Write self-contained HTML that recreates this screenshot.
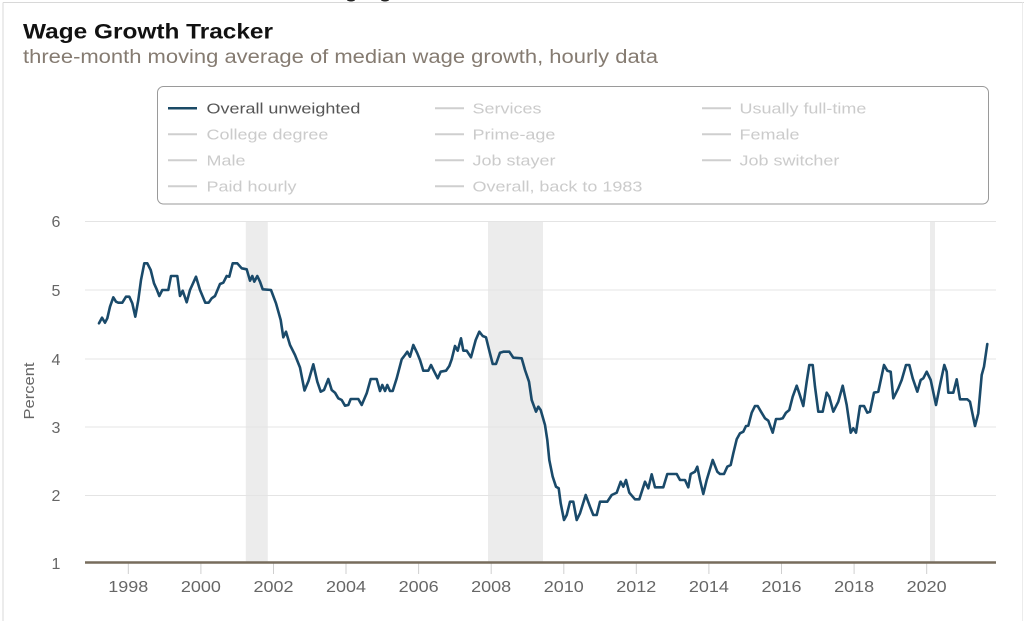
<!DOCTYPE html>
<html><head><meta charset="utf-8"><style>
html,body{margin:0;padding:0;background:#fff;}
svg{display:block;}
text{font-family:"Liberation Sans",Arial,sans-serif;}
</style></head><body>
<svg width="1024" height="621" viewBox="0 0 1024 621" xmlns="http://www.w3.org/2000/svg">
<rect x="0" y="0" width="1024" height="621" fill="#fff"/>
<line x1="3" y1="2.5" x2="1024" y2="2.5" stroke="#d8d8d8" stroke-width="1"/>
<line x1="3" y1="2.5" x2="3" y2="621" stroke="#d8d8d8" stroke-width="1"/>
<line x1="1022.5" y1="2.5" x2="1022.5" y2="621" stroke="#ececec" stroke-width="1"/>
<ellipse cx="351" cy="0" rx="4" ry="1.5" fill="#222"/>
<ellipse cx="385" cy="0" rx="4" ry="1.5" fill="#222"/>

<text x="23" y="38.5" font-size="21" font-weight="bold" fill="#111" textLength="250" lengthAdjust="spacingAndGlyphs">Wage Growth Tracker</text>
<text x="23" y="63" font-size="19" fill="#857b71" textLength="635" lengthAdjust="spacingAndGlyphs">three-month moving average of median wage growth, hourly data</text>

<!-- legend -->
<rect x="157.5" y="86.5" width="831" height="117.5" rx="6" ry="6" fill="#fff" stroke="#9a9a9a" stroke-width="1"/>
<g font-size="15">
<line x1="168" y1="108.3" x2="197" y2="108.3" stroke="#1b4a66" stroke-width="2.5"/>
<g transform="translate(206.5,113.5) scale(1.2,1)"><text x="0" y="0" fill="#555">Overall unweighted</text></g>
<line x1="168" y1="134.3" x2="197" y2="134.3" stroke="#cfcfcf" stroke-width="2"/>
<g transform="translate(206.5,139.5) scale(1.2,1)"><text x="0" y="0" fill="#cbcbcb">College degree</text></g>
<line x1="168" y1="160.3" x2="197" y2="160.3" stroke="#cfcfcf" stroke-width="2"/>
<g transform="translate(206.5,165.5) scale(1.2,1)"><text x="0" y="0" fill="#cbcbcb">Male</text></g>
<line x1="168" y1="186.3" x2="197" y2="186.3" stroke="#cfcfcf" stroke-width="2"/>
<g transform="translate(206.5,191.5) scale(1.2,1)"><text x="0" y="0" fill="#cbcbcb">Paid hourly</text></g>

<line x1="435" y1="108.3" x2="464" y2="108.3" stroke="#cfcfcf" stroke-width="2"/>
<g transform="translate(472.5,113.5) scale(1.2,1)"><text x="0" y="0" fill="#cbcbcb">Services</text></g>
<line x1="435" y1="134.3" x2="464" y2="134.3" stroke="#cfcfcf" stroke-width="2"/>
<g transform="translate(472.5,139.5) scale(1.2,1)"><text x="0" y="0" fill="#cbcbcb">Prime-age</text></g>
<line x1="435" y1="160.3" x2="464" y2="160.3" stroke="#cfcfcf" stroke-width="2"/>
<g transform="translate(472.5,165.5) scale(1.2,1)"><text x="0" y="0" fill="#cbcbcb">Job stayer</text></g>
<line x1="435" y1="186.3" x2="464" y2="186.3" stroke="#cfcfcf" stroke-width="2"/>
<g transform="translate(472.5,191.5) scale(1.2,1)"><text x="0" y="0" fill="#cbcbcb">Overall, back to 1983</text></g>

<line x1="702" y1="108.3" x2="731" y2="108.3" stroke="#cfcfcf" stroke-width="2"/>
<g transform="translate(739.5,113.5) scale(1.2,1)"><text x="0" y="0" fill="#cbcbcb">Usually full-time</text></g>
<line x1="702" y1="134.3" x2="731" y2="134.3" stroke="#cfcfcf" stroke-width="2"/>
<g transform="translate(739.5,139.5) scale(1.2,1)"><text x="0" y="0" fill="#cbcbcb">Female</text></g>
<line x1="702" y1="160.3" x2="731" y2="160.3" stroke="#cfcfcf" stroke-width="2"/>
<g transform="translate(739.5,165.5) scale(1.2,1)"><text x="0" y="0" fill="#cbcbcb">Job switcher</text></g>
</g>

<!-- recession bands -->
<rect x="245.8" y="221" width="22" height="341" fill="#ececec"/>
<rect x="488" y="221" width="55" height="341" fill="#ececec"/>
<rect x="930" y="221" width="5" height="341" fill="#ececec"/>

<!-- grid -->
<g stroke="#e4e4e4" stroke-width="1">
<line x1="85" y1="221.5" x2="996" y2="221.5"/>
<line x1="85" y1="290" x2="996" y2="290"/>
<line x1="85" y1="359" x2="996" y2="359"/>
<line x1="85" y1="427" x2="996" y2="427"/>
<line x1="85" y1="495.5" x2="996" y2="495.5"/>
</g>

<!-- y labels -->
<g font-size="16" fill="#666" text-anchor="middle">
<text x="56" y="227">6</text>
<text x="56" y="296">5</text>
<text x="56" y="365">4</text>
<text x="56" y="433">3</text>
<text x="56" y="501">2</text>
<text x="56" y="569">1</text>
</g>
<text transform="translate(34,391) rotate(-90)" x="0" y="0" font-size="15" fill="#666" text-anchor="middle" textLength="57" lengthAdjust="spacingAndGlyphs">Percent</text>

<!-- ticks -->
<g stroke="#cfcfcf" stroke-width="1">
<line x1="128.3" y1="563" x2="128.3" y2="574"/>
<line x1="200.9" y1="563" x2="200.9" y2="574"/>
<line x1="273.5" y1="563" x2="273.5" y2="574"/>
<line x1="346" y1="563" x2="346" y2="574"/>
<line x1="418.6" y1="563" x2="418.6" y2="574"/>
<line x1="491.2" y1="563" x2="491.2" y2="574"/>
<line x1="563.8" y1="563" x2="563.8" y2="574"/>
<line x1="636.3" y1="563" x2="636.3" y2="574"/>
<line x1="708.9" y1="563" x2="708.9" y2="574"/>
<line x1="781.5" y1="563" x2="781.5" y2="574"/>
<line x1="854.1" y1="563" x2="854.1" y2="574"/>
<line x1="926.7" y1="563" x2="926.7" y2="574"/>
</g>
<g font-size="16" fill="#666">
<text x="108.3" y="592" textLength="40" lengthAdjust="spacingAndGlyphs">1998</text>
<text x="180.9" y="592" textLength="40" lengthAdjust="spacingAndGlyphs">2000</text>
<text x="253.5" y="592" textLength="40" lengthAdjust="spacingAndGlyphs">2002</text>
<text x="326" y="592" textLength="40" lengthAdjust="spacingAndGlyphs">2004</text>
<text x="398.6" y="592" textLength="40" lengthAdjust="spacingAndGlyphs">2006</text>
<text x="471.2" y="592" textLength="40" lengthAdjust="spacingAndGlyphs">2008</text>
<text x="543.8" y="592" textLength="40" lengthAdjust="spacingAndGlyphs">2010</text>
<text x="616.3" y="592" textLength="40" lengthAdjust="spacingAndGlyphs">2012</text>
<text x="688.9" y="592" textLength="40" lengthAdjust="spacingAndGlyphs">2014</text>
<text x="761.5" y="592" textLength="40" lengthAdjust="spacingAndGlyphs">2016</text>
<text x="834.1" y="592" textLength="40" lengthAdjust="spacingAndGlyphs">2018</text>
<text x="906.7" y="592" textLength="40" lengthAdjust="spacingAndGlyphs">2020</text>
</g>

<!-- axis line -->
<line x1="85" y1="562.5" x2="996" y2="562.5" stroke="#776c5c" stroke-width="2.5"/>

<!-- series -->
<polyline fill="none" stroke="#1a4a6a" stroke-width="2.6" stroke-linejoin="round" stroke-linecap="round" points="
99,323.3 102,317.7 105,322.7 107.3,318.3 110,306.7 113.3,297.3 116,301.7 118.3,302.7 122.3,302.7 126,296.7 129.3,296.7 132.3,303.3 135.3,316.7 138.3,300 141,280 144.3,263.3 147.3,263.3 150.7,270 154,283.3 156.7,289.3 159.3,296 162.3,290 168.3,290 171,276 177.3,276 180,296 182.7,290.7 186.7,302.3 190,290 196,276.7 200,290 205.3,302.7 208.7,302.7 211.7,298.3 215,296 220,284 223.3,282.7 226.7,276 229.3,276.7 232.7,263.3 237.3,263.3 241.7,268.3 246.7,269.3 250,280.7 252.3,276 254.3,281.7 257.3,276 260,281.7 262.7,289.3 271,290 276,303.3 280.7,320 283.3,337.3 286,331.7 290,345 295,355 300,367.5 304.5,390.5 308.5,381 313.3,364.3 317.3,381.7 320.7,391.7 324,390 328.3,379 331.7,390 335,392.7 338.3,398.3 341.7,400 345,405.7 348.3,405 350.7,399 358.3,399 361.7,405 366.7,393.3 370.7,379 376.7,379 380,391 382.3,385 385,391 387.3,385 390,391 392.7,391 396.7,378.3 401.7,359.3 405,355 407.3,351.7 410,356.7 413.3,345 417.3,353.3 420,360 423.3,370.7 428.3,370.7 431,365 434.3,371.7 437.7,378.3 440.7,371.7 446,370.7 449.3,366 451.7,359.3 455,346 457.7,350.7 461,338.3 463.3,350.7 466.7,350.7 471,357.3 475.7,340 479.3,331.7 482.7,336 486,337.3 489.3,350.7 492.7,364 496,364 500,352.7 503.3,351.7 509.3,351.7 513.3,357.7 521.7,358.3 525,370 529,381.7 531.7,400 536,411.7 538.3,406.7 540.7,410 545,425 547.3,440 549.3,460 552.7,476.7 556,486.7 558.7,488.3 560.7,503.3 564,520 566.7,515 570,501.7 573.3,501.7 576.7,520 580,513.3 585.7,495 590,506.7 593.3,515 596.7,515 600,501.7 607.3,501.7 611.7,495 616.7,492.7 620.7,481.7 623.3,486.7 626,480 629.3,492.7 635,499.3 639.3,499.3 645,481.7 648.3,488.3 651.7,474.3 655,487.3 663.3,487.3 667.3,474 676.7,474 680,480 685,480 688.3,487.3 690.7,474 695,471.7 697.3,466.7 700,480 703.3,494 706.7,480 712.7,460 717.3,471.7 720,474 724,474 727.3,466.7 730.7,465 733.3,453.3 736.7,439.3 740,433.3 743.3,431.7 746,426 748.3,425.7 751.7,412.7 755,406 757.7,406 761,411.7 765,418.3 768.3,420.7 772.7,432.7 776,419 780,419 782.7,418.3 786,412.7 789.3,410 792.7,396.7 796.7,385.7 799.3,393.3 803.3,406 806.7,381.7 809.3,365 812.7,365 815,386.7 818.3,411.7 822.7,411.7 826.7,392.7 829.3,396.7 833.3,411.7 838.3,401.7 842.7,385.7 846.7,405 850.7,432.7 853.3,428.3 856,432.7 860,406 864,406 867.3,412.7 870,411.7 874,392.7 878.3,391.7 884,365 887.3,370.7 890.7,371.7 893.3,398.3 898.3,388.3 901.7,380 906,365 909.3,365 912.7,378.3 917.3,391.7 920.7,380 923.3,378.3 926.7,371.7 930.7,380 936,405 940,385 944.3,365 946.7,371.7 948.3,392.7 953.3,392.7 956.7,379.3 960,399.3 967.3,399.3 970,401.7 975,426 978.3,413.3 981.7,375 984,366.7 987.3,344"/>
</svg>
</body></html>
